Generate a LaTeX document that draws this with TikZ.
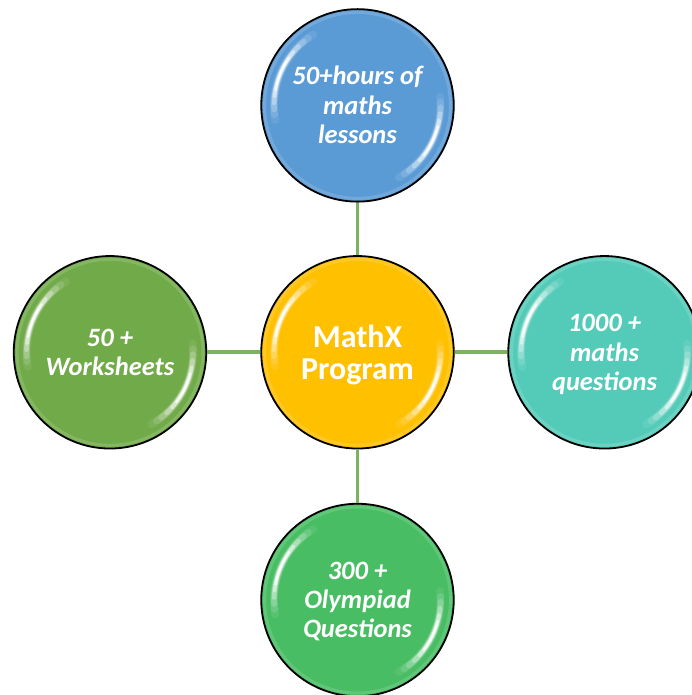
\documentclass[tikz,border=0pt]{standalone}
\usepackage{fontspec}
\setmainfont{Carlito}
\usetikzlibrary{calc}
\definecolor{cblue}{HTML}{5B9BD5}
\definecolor{corange}{HTML}{FFC000}
\definecolor{cteal}{HTML}{54CBB8}
\definecolor{cgreen}{HTML}{48BD63}
\definecolor{colive}{HTML}{71AA49}
\definecolor{clink}{HTML}{7DB35F}
\tikzset{
  ball/.style={circle,draw=black,line width=1.8pt,minimum size=192.5pt,inner sep=0pt},
  small/.style={align=center,text=white,inner sep=0pt,font=\fontsize{26.5}{29.3}\selectfont\bfseries\itshape},
  big/.style={align=center,text=white,inner sep=0pt,font=\fontsize{32}{33}\selectfont\bfseries},
  link/.style={draw=clink,line width=3.6pt},
  glint/.style={line cap=round,draw=white}
}
\newcommand{\shine}[1]{%
  \draw[white,opacity=0.14,line width=3pt] (#1.center) circle[radius=93pt];
  \foreach \w/\o/\e in {8/0.08/0,6.8/0.13/4,5.6/0.2/8,4.6/0.3/13,3.6/0.45/18,2.6/0.7/23,1.6/0.95/27}{
    \draw[glint,line width=\w pt,opacity=\o]
      ($(#1.center)+(122+\e:83.5pt)$)
      arc[start angle=122+\e,end angle=190-\e*0.9,radius=83.5pt];
    \draw[glint,line width=\w pt,opacity=\o]
      ($(#1.center)+(-60+\e:83pt)$)
      arc[start angle=-60+\e,end angle=6-\e*0.9,radius=83pt];
  }%
}
\begin{document}
\begin{tikzpicture}[x=1pt,y=1pt]
\useasboundingbox (0,0) rectangle (691,695);
\node[ball,fill=corange] (center) at (357.5,342.7) {};
\node[ball,fill=cblue] (top) at (357.5,589.6) {};
\node[ball,fill=colive] (left) at (110,342.7) {};
\node[ball,fill=cteal] (right) at (604.5,342.7) {};
\node[ball,fill=cgreen] (bottom) at (357.5,95) {};
\draw[link] (top) -- (center);
\draw[link] (left) -- (center);
\draw[link] (center) -- (right);
\draw[link] (center) -- (bottom);
\shine{center}\shine{top}\shine{left}\shine{right}\shine{bottom}
\node[big] (tc) at (357.5,340) {MathX\\[-0.5pt]Program};
\node[small] (tt) at (357.5,590) {50+hours of\\maths\\lessons};
\node[small] (tl) at (110,342.7) {50 +\\Worksheets};
\node[small] (tr) at (604.5,340.5) {1000 +\\maths\\questions};
\node[small] (tb) at (357.5,93.5) {300 +\\Olympiad\\Questions};
\end{tikzpicture}
\end{document}
